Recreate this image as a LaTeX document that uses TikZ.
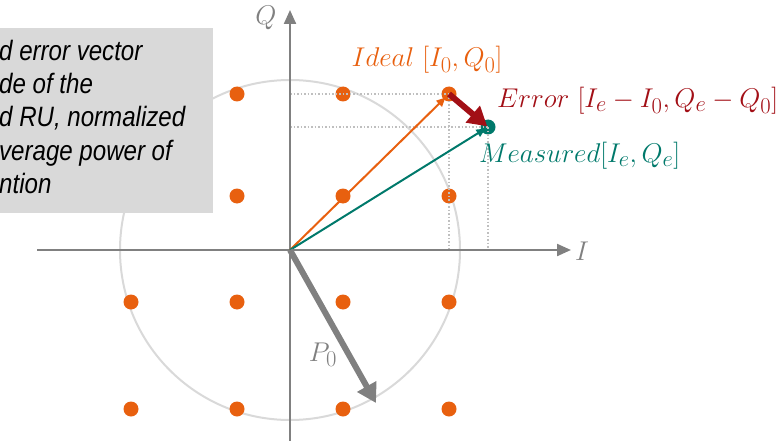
\documentclass[tikz,border=0pt]{standalone}
\usepackage{graphicx}
\usepackage{fontspec}
\usetikzlibrary{arrows.meta}
\newfontfamily\boxfont[FakeStretch=0.86]{Liberation Sans}
\newcommand{\mlab}[1]{\scalebox{1.09}{$#1$}}
\definecolor{dotor}{HTML}{E8600F}
\definecolor{errred}{HTML}{A20F16}
\definecolor{mteal}{HTML}{00796B}
\definecolor{axgray}{HTML}{808080}
\definecolor{circgray}{HTML}{D9D9D9}
\definecolor{boxgray}{HTML}{D9D9D9}
\definecolor{dotgray}{HTML}{BFBFBF}
\tikzset{
  cdot/.style={circle,fill=dotor,inner sep=0pt,minimum size=15pt},
  guide/.style={dotgray,line width=1.5pt,dotted},
  axis/.style={axgray,line width=2.2pt,-{Triangle[length=14pt,width=12pt]}},
  thinarr/.style={line width=2pt,-{Triangle[length=9pt,width=8pt]}},
  fatarr/.style={line width=6pt,-{Triangle[length=19pt,width=21pt]}},
  boxtext/.style={anchor=base west,inner sep=0pt,font=\boxfont\itshape\fontsize{28}{33}\selectfont},
  mlabel/.style={inner sep=0pt,font=\fontsize{24.88}{30}\selectfont}
}
\begin{document}
\begin{tikzpicture}[x=1pt,y=-1pt]
\useasboundingbox (0,0) rectangle (781,441);
\coordinate (O) at (290,250);
\draw[circgray,line width=2pt] (O) circle[radius=170];
% guides
\coordinate (Qi) at (290,94);
\coordinate (Qm) at (290,127);
\coordinate (Ii) at (449,250);
\coordinate (Im) at (488,250);
% axes
\coordinate (Ib) at (37,250);
\coordinate (Ie) at (571,250);
\coordinate (Qb) at (290,441);
\coordinate (Qe) at (290,10);
% dots
\node[cdot] (d12) at (237,94) {};
\node[cdot] (d13) at (343,94) {};
\node[cdot] (ideal) at (449,94) {};
\node[cdot] (d22) at (237,196) {};
\node[cdot] (d23) at (343,196) {};
\node[cdot] (d24) at (449,196) {};
\node[cdot] (d31) at (131,302) {};
\node[cdot] (d32) at (237,302) {};
\node[cdot] (d33) at (343,302) {};
\node[cdot] (d34) at (449,302) {};
\node[cdot] (d41) at (131,409) {};
\node[cdot] (d42) at (237,409) {};
\node[cdot] (d43) at (343,409) {};
\node[cdot] (d44) at (449,409) {};
\node[circle,fill=mteal,inner sep=0pt,minimum size=15pt] (meas) at (488,127) {};
\draw[guide] (Qi) -- (ideal.center);
\draw[guide] (Qm) -- (meas.center);
\draw[guide] (ideal.center) -- (Ii);
\draw[guide] (meas.center) -- (Im);
\draw[axis] (Ib) -- (Ie);
\draw[axis] (Qb) -- (Qe);
% vectors
\draw[thinarr,dotor,shorten >=5pt] (O) -- (ideal.center);
\draw[thinarr,mteal,shorten >=3pt] (O) -- (meas.center);
\draw[fatarr,errred,shorten >=1pt] (ideal.center) -- (meas.center);
\coordinate (P) at (376,403);
\draw[fatarr,axgray] (O) -- (P);
% box
\fill[boxgray] (0,28) rectangle (213,213);
\node[boxtext] (t1) at (-1,61) {d error vector};
\node[boxtext] (t2) at (-1,94) {de of the};
\node[boxtext] (t3) at (-1,127) {d RU, normalized};
\node[boxtext] (t4) at (-1,160) {verage power of};
\node[boxtext] (t5) at (-1,193) {ntion};
% labels
\node[mlabel,axgray] (Ilab) at (582,251) {\mlab{I}};
\node[mlabel,axgray] (Qlab) at (266,18) {\mlab{Q}};
\node[mlabel,axgray] (P0lab) at (323,355) {\mlab{P_0}};
\node[mlabel,dotor] (idlab) at (427,60) {\mlab{Ideal\ [I_0,Q_0]}};
\node[mlabel,errred,anchor=west] (errlab) at (497,101) {\mlab{Error\ [I_e-I_0,Q_e-Q_0]}};
\node[mlabel,mteal,anchor=west] (measlab) at (479,156) {\mlab{Measured[I_e,Q_e]}};
\end{tikzpicture}
\end{document}
